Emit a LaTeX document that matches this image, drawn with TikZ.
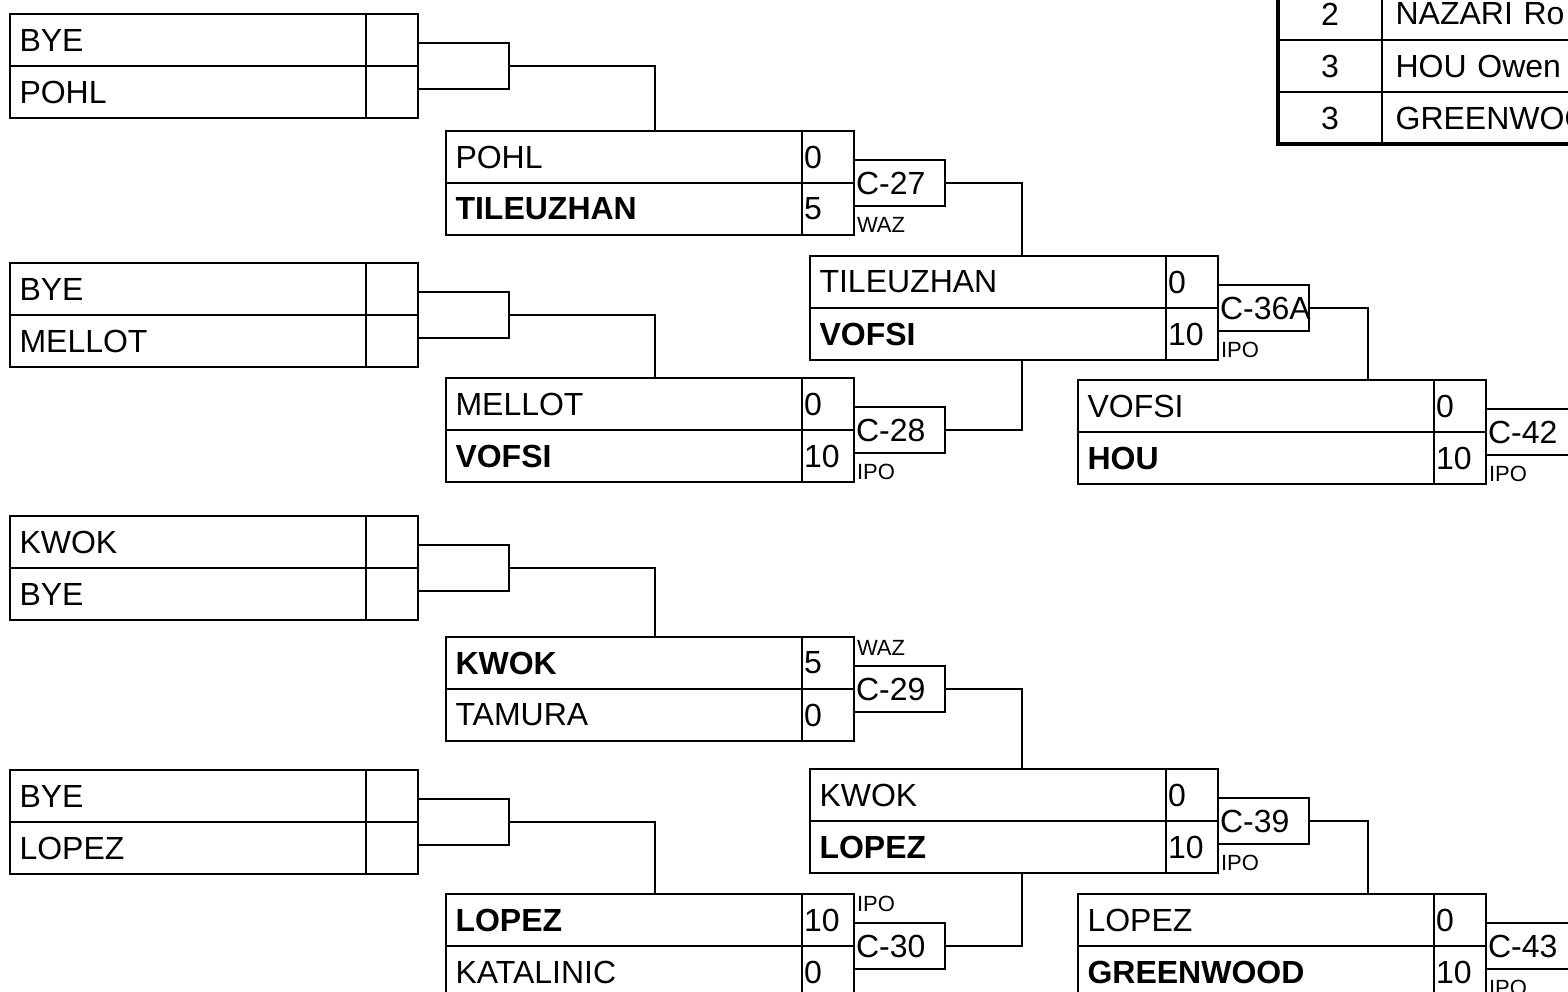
\documentclass[tikz,border=0pt]{standalone}
\usepackage{fontspec}
\setmainfont{Liberation Sans}
\usetikzlibrary{positioning,calc}

\begin{document}
\begin{tikzpicture}[x=0.5pt, y=-0.5pt,
  font=\fontsize{16}{19}\selectfont,
  player/.style={draw, line width=1pt, outer sep=0pt, minimum width=178pt, minimum height=26pt, text width=168.5pt, inner xsep=4.75pt, inner ysep=0pt, align=left},
  score/.style={draw, line width=1pt, outer sep=0pt, minimum width=26pt, minimum height=26pt, text width=24pt, inner xsep=1pt, inner ysep=0pt, align=left},
  bout/.style={draw, line width=1pt, outer sep=0pt, minimum width=45.5pt, minimum height=23pt, text width=43.5pt, inner xsep=1pt, inner ysep=0pt, align=left, execute at begin node={\exhyphenpenalty=10000 \hyphenpenalty=10000 }},
  method/.style={font=\fontsize{11}{13}\selectfont, inner xsep=1.5pt, inner ysep=0pt, outer sep=0pt},
  rank/.style={draw, line width=1pt, outer sep=0pt, minimum width=52pt, minimum height=26pt, inner sep=0pt},
  entry/.style={draw, line width=1pt, outer sep=0pt, minimum width=160pt, minimum height=26pt, text width=146.4pt, inner xsep=6.8pt, inner ysep=0pt, align=left},
  link/.style={line width=1pt},
  node distance=0pt]
\useasboundingbox (0,0) rectangle (1568,991);
\clip (0,0) rectangle (1568,991);

\node[player, anchor=north west] (b1a) at (10,14) {BYE};
\node[score, right=of b1a] (b1as) {};
\node[player, below=of b1a] (b1b) {POHL};
\node[score, right=of b1b] (b1bs) {};
\node[bout, right=of b1as.south east] (b1) {};

\node[player, anchor=north west] (b2a) at (10,263) {BYE};
\node[score, right=of b2a] (b2as) {};
\node[player, below=of b2a] (b2b) {MELLOT};
\node[score, right=of b2b] (b2bs) {};
\node[bout, right=of b2as.south east] (b2) {};

\node[player, anchor=north west] (b3a) at (10,516) {KWOK};
\node[score, right=of b3a] (b3as) {};
\node[player, below=of b3a] (b3b) {BYE};
\node[score, right=of b3b] (b3bs) {};
\node[bout, right=of b3as.south east] (b3) {};

\node[player, anchor=north west] (b4a) at (10,770) {BYE};
\node[score, right=of b4a] (b4as) {};
\node[player, below=of b4a] (b4b) {LOPEZ};
\node[score, right=of b4b] (b4bs) {};
\node[bout, right=of b4as.south east] (b4) {};

\node[player, anchor=north west] (c27a) at (446,131) {POHL};
\node[score, right=of c27a] (c27as) {0};
\node[player, below=of c27a] (c27b) {\bfseries TILEUZHAN};
\node[score, right=of c27b] (c27bs) {5};
\node[bout, right=of c27as.south east] (c27) {C-27};
\node[method, anchor=north west, yshift=-5.5pt] (w27) at (c27.south west) {WAZ};

\node[player, anchor=north west] (c28a) at (446,378) {MELLOT};
\node[score, right=of c28a] (c28as) {0};
\node[player, below=of c28a] (c28b) {\bfseries VOFSI};
\node[score, right=of c28b] (c28bs) {10};
\node[bout, right=of c28as.south east] (c28) {C-28};
\node[method, anchor=north west, yshift=-5.5pt] (w28) at (c28.south west) {IPO};

\node[player, anchor=north west] (c29a) at (446,637) {\bfseries KWOK};
\node[score, right=of c29a] (c29as) {5};
\node[player, below=of c29a] (c29b) {TAMURA};
\node[score, right=of c29b] (c29bs) {0};
\node[bout, right=of c29as.south east] (c29) {C-29};
\node[method, anchor=south west, yshift=5.5pt] (w29) at (c29.north west) {WAZ};

\node[player, anchor=north west] (c30a) at (446,894) {\bfseries LOPEZ};
\node[score, right=of c30a] (c30as) {10};
\node[player, below=of c30a] (c30b) {KATALINIC};
\node[score, right=of c30b] (c30bs) {0};
\node[bout, right=of c30as.south east] (c30) {C-30};
\node[method, anchor=south west, yshift=5.5pt] (w30) at (c30.north west) {IPO};

\node[player, anchor=north west] (c36aa) at (810,256) {TILEUZHAN};
\node[score, right=of c36aa] (c36aas) {0};
\node[player, below=of c36aa] (c36ab) {\bfseries VOFSI};
\node[score, right=of c36ab] (c36abs) {10};
\node[bout, right=of c36aas.south east] (c36a) {C-36A};
\node[method, anchor=north west, yshift=-5.5pt] (w36a) at (c36a.south west) {IPO};

\node[player, anchor=north west] (c39a) at (810,769) {KWOK};
\node[score, right=of c39a] (c39as) {0};
\node[player, below=of c39a] (c39b) {\bfseries LOPEZ};
\node[score, right=of c39b] (c39bs) {10};
\node[bout, right=of c39as.south east] (c39) {C-39};
\node[method, anchor=north west, yshift=-5.5pt] (w39) at (c39.south west) {IPO};

\node[player, anchor=north west] (c42a) at (1078,380) {VOFSI};
\node[score, right=of c42a] (c42as) {0};
\node[player, below=of c42a] (c42b) {\bfseries HOU};
\node[score, right=of c42b] (c42bs) {10};
\node[bout, right=of c42as.south east] (c42) {C-42};
\node[method, anchor=north west, yshift=-5.5pt] (w42) at (c42.south west) {IPO};

\node[player, anchor=north west] (c43a) at (1078,894) {LOPEZ};
\node[score, right=of c43a] (c43as) {0};
\node[player, below=of c43a] (c43b) {\bfseries GREENWOOD};
\node[score, right=of c43b] (c43bs) {10};
\node[bout, right=of c43as.south east] (c43) {C-43};
\node[method, anchor=north west, yshift=-5.5pt] (w43) at (c43.south west) {IPO};

\node[rank, anchor=north west] (t1) at (1278,-12) {2};
\node[entry, right=of t1] (t1n) {NAZARI Ro};
\node[rank, below=of t1] (t2) {3};
\node[entry, right=of t2] (t2n) {HOU Owen};
\node[rank, below=of t2] (t3) {3};
\node[entry, right=of t3] (t3n) {GREENWOOD};
\draw[line width=2pt] (t1.north west) rectangle (t3n.south east);

\draw[link] (b1.east) -| ($(c27a.north west)+(209,0)$);
\draw[link] (b2.east) -| ($(c28a.north west)+(209,0)$);
\draw[link] (b3.east) -| ($(c29a.north west)+(209,0)$);
\draw[link] (b4.east) -| ($(c30a.north west)+(209,0)$);
\draw[link] (c27.east) -| ($(c36aa.north west)+(212,0)$);
\draw[link] (c28.east) -| ($(c36ab.south west)+(212,0)$);
\draw[link] (c29.east) -| ($(c39a.north west)+(212,0)$);
\draw[link] (c30.east) -| ($(c39b.south west)+(212,0)$);
\draw[link] (c36a.east) -| ($(c42a.north west)+(290,0)$);
\draw[link] (c39.east) -| ($(c43a.north west)+(290,0)$);
\end{tikzpicture}
\end{document}
